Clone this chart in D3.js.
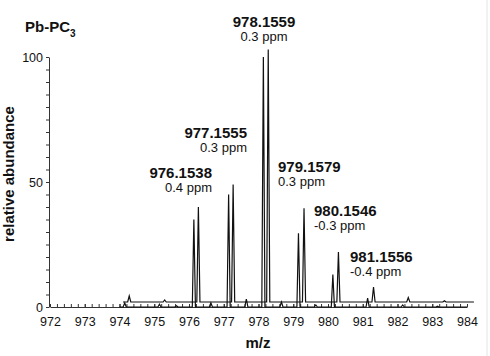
<!DOCTYPE html>
<html>
<head>
<meta charset="utf-8">
<script src="https://cdn.jsdelivr.net/npm/d3@7"></script>
<style>
  body { margin: 0; background: #fff; }
  text { font-family: "Liberation Sans", Arial, sans-serif; fill: #111; }
</style>
</head>
<body>
<div id="chart"></div>
<script>
// measured spectrum (lower trace): peak m/z and relative abundance
const measMz = [974.15, 975.15, 975.64, 976.14, 976.63, 977.14, 977.65, 978.14, 978.66, 979.15, 979.65, 980.14, 981.14, 982.15, 983.15]
const measInt = [1.6, 1.1, 0.5, 35, 1.6, 45, 3.2, 100, 2.0, 29.5, 0.8, 13, 3.6, 0.8, 0.3]

// simulated pattern (upper trace, offset): peak m/z and relative abundance
const simMz = [974.28, 975.30, 976.27, 977.27, 978.28, 979.31, 980.30, 981.31, 982.31, 983.35]
const simInt = [2.4, 0.8, 38, 47, 101, 37.5, 20, 6, 1.8, 0.5]
const simOffset = 2

// annotations
const labelMz = ["976.1538", "977.1555", "978.1559", "979.1579", "980.1546", "981.1556"]
const labelPpm = ["0.4 ppm", "0.3 ppm", "0.3 ppm", "0.3 ppm", "-0.3 ppm", "-0.4 ppm"]

const xTicks = d3.range(972, 985, 1)
const yTicks = [0, 50, 100]

const W = 490, H = 356
const svg = d3.select("#chart").append("svg")
  .attr("width", W).attr("height", H)

svg.append("rect").attr("width", W).attr("height", H).attr("fill", "white")

const x = d3.scaleLinear().domain([972, 984]).range([50, 467])
const y = d3.scaleLinear().domain([0, 100]).range([307, 57])

// y axis
const yAxis = d3.axisLeft(y)
  .tickValues(d3.range(0, 101, 5))
  .tickSize(3)
  .tickSizeOuter(0)
  .tickFormat(d => yTicks.includes(d) ? d : "")
const gy = svg.append("g").attr("transform", "translate(49,0)").call(yAxis)
gy.selectAll("text").style("font-size", "12.5px").attr("x", -6)

// x axis, minor ticks then labelled ones
svg.append("g").attr("transform", "translate(0,307)")
  .call(d3.axisBottom(x).tickValues(d3.range(972, 984.01, 0.2)).tickSize(-3).tickSizeOuter(0).tickFormat(""))
const gx = svg.append("g").attr("transform", "translate(0,307)")
  .call(d3.axisBottom(x).tickValues(xTicks).tickSize(-3).tickSizeOuter(0).tickFormat(d3.format("d")))
gx.select(".domain").remove()
gx.selectAll("text").style("font-size", "12.5px").attr("y", 10)

svg.selectAll(".domain, .tick line").attr("stroke", "#333")

// spectrum traces built from peak lists
const halfW = 0.045
const buildTrace = (mz, inten, base, start, end) => {
  const pts = [[start, base]]
  mz.forEach((m, i) => {
    pts.push([m - halfW, base], [m, base + inten[i]], [m + halfW, base])
  })
  pts.push([end, base])
  return pts
}
const line = d3.line().x(d => x(d[0])).y(d => y(d[1]))

svg.append("path")
  .datum(buildTrace(measMz, measInt, 0, 974.0, 984.0))
  .attr("d", line).attr("fill", "none").attr("stroke", "#111").attr("stroke-width", 1.2)

svg.append("path")
  .datum(buildTrace(simMz, simInt, simOffset, 974.1, 984.2))
  .attr("d", line).attr("fill", "none").attr("stroke", "#111").attr("stroke-width", 1.2)

// peak labels (position: x, baseline y, anchor)
const labelPos = [
  [212, 178, "end"], [247, 138, "end"], [264, 27, "middle"],
  [278, 172, "start"], [314, 216, "start"], [350, 262, "start"]
]
labelMz.forEach((t, i) => {
  const [lx, ly, anchor] = labelPos[i]
  svg.append("text").attr("x", lx).attr("y", ly).attr("text-anchor", anchor)
    .style("font-size", "15px").style("font-weight", "bold").text(t)
  svg.append("text").attr("x", lx).attr("y", ly + 14).attr("text-anchor", anchor)
    .style("font-size", "13px").text(labelPpm[i])
})

// title
const title = svg.append("text").attr("x", 25).attr("y", 32)
  .style("font-size", "15px").style("font-weight", "bold")
title.append("tspan").text("Pb-PC")
title.append("tspan").attr("dy", 5).style("font-size", "10px").text("3")

// axis titles
svg.append("text").attr("x", 258).attr("y", 348).attr("text-anchor", "middle")
  .style("font-size", "15px").style("font-weight", "bold").text("m/z")
svg.append("text").attr("transform", "translate(14,174) rotate(-90)").attr("text-anchor", "middle")
  .style("font-size", "15px").style("font-weight", "bold").text("relative abundance")

// faint frame edge on the right
svg.append("line").attr("x1", 487).attr("x2", 487).attr("y1", 0).attr("y2", H)
  .attr("stroke", "#e4e4e4")
</script>
</body>
</html>
